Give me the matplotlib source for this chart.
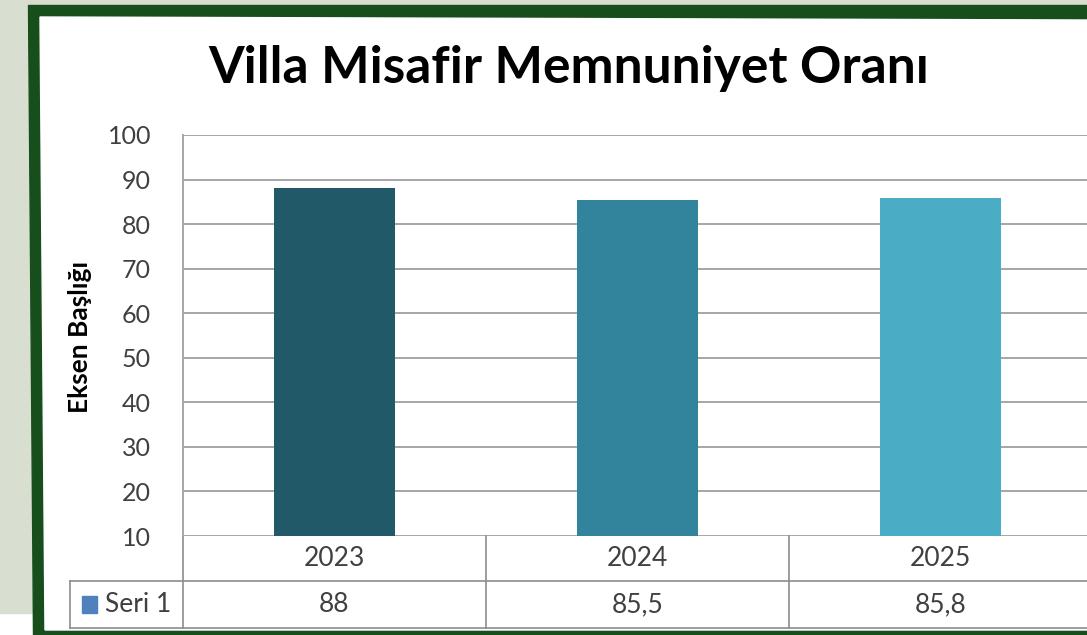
import matplotlib.pyplot as plt
from matplotlib.patches import Polygon, Rectangle

plt.rcParams['font.family'] = ['Lato', 'DejaVu Sans']

years = ['2023', '2024', '2025']
values = [88, 85.5, 85.8]
value_labels = ['88', '85,5', '85,8']
bar_colors = ['#215968', '#31849b', '#4bacc6']
series_name = 'Seri 1'
title = 'Villa Misafir Memnuniyet Oranı'
ylabel = 'Eksen Başlığı'

W, H = 1087, 635
fig = plt.figure(figsize=(W / 100, H / 100), dpi=100, facecolor='white')

# background + green frame (pixel coords)
bg = fig.add_axes([0, 0, 1, 1])
bg.set_xlim(0, W)
bg.set_ylim(H, 0)
bg.axis('off')
bg.add_patch(Rectangle((0, 0), W, 613, color='#d9dfd0'))
bg.add_patch(Polygon([(28, 5), (W, 5), (W, H), (33, H)], color='#174f1c'))
bg.add_patch(Polygon([(40, 17), (W, 20), (W, 630), (45, 630)], color='white'))

# chart area
left, right, top, bottom = 183, 1092, 135, 536
ax = fig.add_axes([left / W, (H - bottom) / H, (right - left) / W, (bottom - top) / H])
ax.set_facecolor('none')
x = range(len(years))
ax.bar(x, [v - 10 for v in values], bottom=10, width=0.4, color=bar_colors, zorder=3)
ax.set_xlim(-0.5, 2.5)
ax.set_ylim(10, 100)
ax.set_yticks(range(10, 101, 10))
ax.grid(axis='y', color='#a6a6a6', lw=1.4, zorder=0)
ax.tick_params(axis='y', length=0, pad=23, labelsize=18, labelcolor='#404040')
ax.tick_params(axis='x', length=0, labelbottom=False)
for s in ['top', 'right', 'bottom']:
    ax.spines[s].set_visible(False)
ax.spines['left'].set_color('#a6a6a6')
ax.spines['left'].set_linewidth(1.4)

fig.text(569 / W, 1 - 83 / H, title, ha='center', va='baseline',
         fontsize=37, fontweight='bold', color='black')
fig.text(80 / W, 1 - 337 / H, ylabel, rotation=90, ha='center', va='center',
         fontsize=19, fontweight='bold', color='black')

# data table under the axis
tr = ax.get_xaxis_transform()
r1, r2 = -45 / 401, -92 / 401
legend_x = -0.5 - 113 / 303
lc = '#8c8c8c'
ax.plot([legend_x, 2.5], [r1, r1], transform=tr, color=lc, lw=1.2, clip_on=False)
ax.plot([legend_x, 2.5], [r2, r2], transform=tr, color=lc, lw=1.2, clip_on=False)
ax.plot([legend_x, legend_x], [r1, r2], transform=tr, color=lc, lw=1.2, clip_on=False)
for b in [-0.5, 0.5, 1.5]:
    ax.plot([b, b], [0, r2], transform=tr, color=lc, lw=1.2, clip_on=False)

for i, (yr, lab) in enumerate(zip(years, value_labels)):
    ax.text(i, r1 / 2, yr, transform=tr, ha='center', va='center',
            fontsize=19, color='#404040')
    ax.text(i, (r1 + r2) / 2, lab, transform=tr, ha='center', va='center',
            fontsize=19, color='#404040')

ax.add_patch(Rectangle((legend_x + 0.04, (r1 + r2) / 2 - 0.02), 0.05, 0.04,
                       transform=tr, color='#4f81bd', clip_on=False))
ax.text(legend_x + 0.115, (r1 + r2) / 2, series_name, transform=tr, ha='left',
        va='center', fontsize=19, color='#404040')

fig.savefig('out.png', dpi=100)
